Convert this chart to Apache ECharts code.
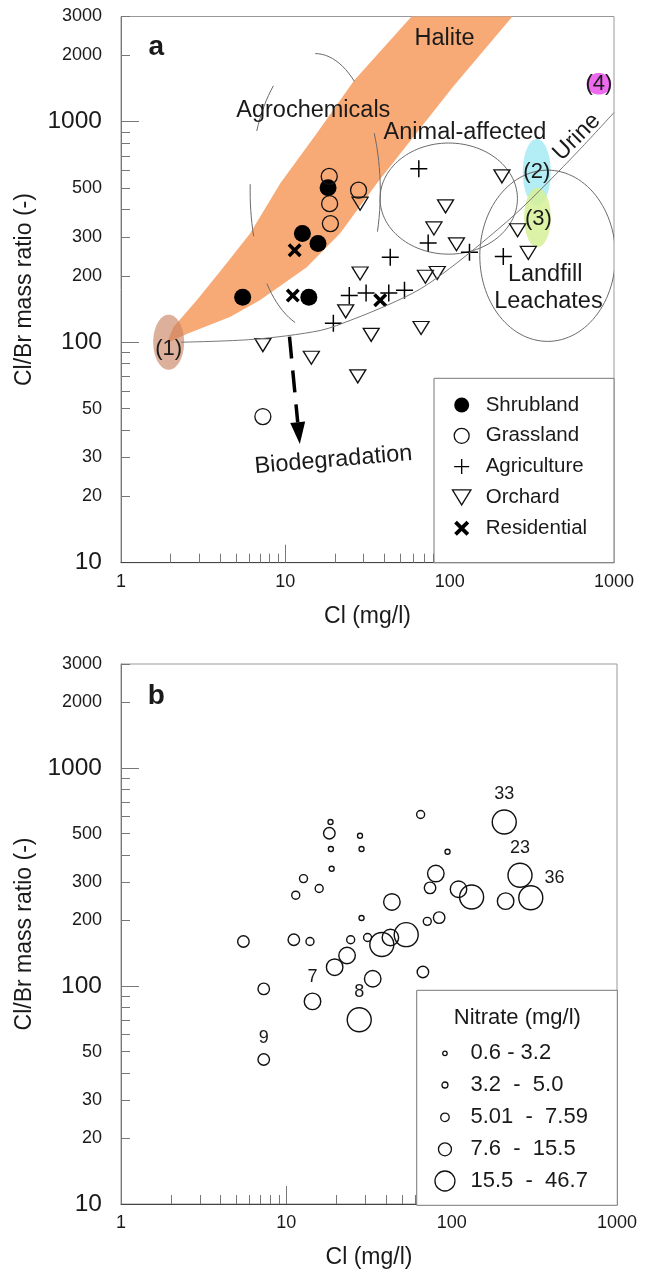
<!DOCTYPE html>
<html>
<head>
<meta charset="utf-8">
<script src="https://cdn.jsdelivr.net/npm/echarts@6/dist/echarts.min.js"></script>
<style>
  html, body { margin: 0; padding: 0; background: #fff; }
  #chart { width: 646px; height: 1270px; }
</style>
</head>
<body>
<div id="chart"></div>
<script>
var FONT = '"Liberation Sans", Arial, Helvetica, sans-serif';
var INK = '#1a1a1a';

// ---- panel a: samples by land use, Cl (mg/l) vs Cl/Br mass ratio ----
var shrubCl    = [5.5, 18.2, 12.7, 15.8, 13.9];
var shrubRatio = [160, 502, 311, 280, 160];
var grassCl    = [18.5, 18.6, 18.8, 27.9, 7.3];
var grassRatio = [565, 425, 345, 489, 46];
var agriCl     = [64.9, 43.5, 74, 24.5, 31, 42.6, 53.1, 19.6, 132, 212];
var agriRatio  = [612, 243, 282, 163, 167, 167, 172, 122, 256, 245];
var orchCl     = [28.5, 28.5, 23.3, 7.3, 14.4, 27.6, 33.3, 67, 80.2, 71.2, 84, 208, 94.4, 110, 259, 301];
var orchRatio  = [425, 205, 138, 97, 85, 70, 108, 116, 328, 198, 206, 565, 413, 278, 322, 254];
var resCl      = [11.4, 11.1, 37.8];
var resRatio   = [261, 163, 155];

// ---- panel b: nitrate class (1..5) of each sample, same order as above ----
var shrubNo3 = [3, 3, 2, 2, 2];
var grassNo3 = [1, 1, 1, 1, 3];
var agriNo3  = [2, 4, 3, 2, 2, 4, 5, 4, 5, 4];
var orchNo3  = [1, 1, 4, 3, 4, 5, 4, 3, 4, 2, 3, 5, 1, 4, 5, 5];
var resNo3   = [2, 3, 5];
// sample numbers written next to some bubbles
var shrubTag = ['', '', '', '', ''];
var grassTag = ['', '', '', '', '9'];
var agriTag  = ['', '', '', '', '', '', '', '', '', ''];
var orchTag  = ['', '', '', '', '7', '8', '', '', '', '', '', '33', '', '', '23', '36'];
var resTag   = ['', '', ''];
var nitrateClasses = ['0.6 - 3.2', '3.2  -  5.0', '5.01  -  7.59', '7.6  -  15.5', '15.5  -  46.7'];

// ---- axis ticks / labels ----
var xLabels    = [1, 10, 100, 1000];
var xTickMinor = [2, 3, 4, 5, 6, 7, 8, 9, 20, 30, 40, 50, 60, 70, 80, 90, 200, 300, 400, 500, 600, 700, 800, 900];
var xTickMajor = [10, 100];
var yLabels    = [10, 20, 30, 50, 100, 200, 300, 500, 1000, 2000, 3000];
var yTickMinor = [20, 30, 40, 50, 60, 70, 80, 90, 200, 300, 400, 500, 600, 700, 800, 900, 2000, 3000];
var yTickMajor = [100, 1000];

// ---- panel a annotations ----
// halite band outline
var haliteCl    = [1.9, 2.08, 2.89, 4.2, 6.1, 9.3, 15.5, 21.5, 26.2, 58.6, 87.6, 352, 241, 104.5, 36, 21.5, 13.5, 7.0, 4.6, 2.51];
var haliteRatio = [99, 117, 155, 219, 311, 524, 883, 1249, 1538, 3000, 4200, 4200, 3000, 1435, 524, 311, 219, 155, 130, 109];
// end members (1)..(4)
var blobCl    = [1.95, 339, 342, 809];
var blobRatio = [100, 591, 368, 1486];
// outlined fields: animal-affected, landfill leachates, agrochemicals
var ringCl    = [98.7, 394.5, 15.2];
var ringRatio = [448, 246.6, 483];
// urine mixing line
var urineCl    = [2.32, 6.36, 16.3, 25.8, 41.6, 66, 100, 153, 250, 392, 622, 1000];
var urineRatio = [100, 103, 113, 127, 147, 174, 216, 278, 380, 527, 751, 1100];
// biodegradation arrow
var arrowCl    = [10.6, 12.25];
var arrowRatio = [106, 34.5];
// text notes
var noteText  = ['Halite', 'Agrochemicals', 'Animal-affected', 'Urine', 'Landfill', 'Leachates', 'Biodegradation', '(1)', '(2)', '(3)', '(4)'];
var noteCl    = [93, 14.8, 124, 594, 381, 399, 19.6, 1.95, 339, 347, 809];
var noteRatio = [2377, 1125, 897, 852, 203, 153, 29.2, 93, 591, 363, 1486];

// shape sizes (half widths in decades) and styles
var blobSize  = [[0.094, 0.125], [0.085, 0.15], [0.081, 0.135], [0.075, 0.049]];
var blobColor = ['rgba(200,128,96,0.62)', 'rgba(160,232,242,0.8)', 'rgba(214,240,150,0.85)', '#EE6AEE'];
var ringSize  = [[0.418, 0.252], [0.4127, 0.3883], [0.396, 0.625]];
var ringArcs  = [[[0, 360]], [[0, 360]], [[-90, -53], [-154, -130], [161, 183], [-25, 17], [108, 138]]];
var noteRotate = [0, 0, 0, 45, 0, 0, 4.8, 0, 0, 0, 0];
var noteSize   = [23.5, 23.5, 23.5, 23.5, 23.5, 23.5, 23.5, 22, 22, 22, 22];

var bubbleSize   = [5, 8, 11.5, 16.5, 24];
var legendBubble = [4.5, 6, 8.5, 13, 20];
var legendRowY   = [1053.3, 1085, 1117.3, 1149.3, 1181];

var PLUS  = 'path://M0,7.3L16,7.3L16,8.7L0,8.7Z M7.3,0L8.7,0L8.7,16L7.3,16Z';
var TRI   = 'path://M0,0L16,0L8,13Z';
var CROSS = 'path://M0,2.5L2.5,0L7,4.5L11.5,0L14,2.5L9.5,7L14,11.5L11.5,14L7,9.5L2.5,14L0,11.5L4.5,7Z';

function pairs(xs, ys) {
    return xs.map(function (x, i) { return [x, ys[i]]; });
}

// pixel centre and radii of an ellipse given in decades
function ellipseGeom(api, cx, cy, hx, hy) {
    var c = api.coord([cx, cy]);
    var e = api.coord([cx * Math.pow(10, hx), cy * Math.pow(10, hy)]);
    return { cx: c[0], cy: c[1], rx: Math.abs(e[0] - c[0]), ry: Math.abs(c[1] - e[1]) };
}

function arcPoints(g, a0, a1) {
    var pts = [];
    var n = Math.max(8, Math.round(Math.abs(a1 - a0) / 3));
    for (var i = 0; i <= n; i++) {
        var t = (a0 + (a1 - a0) * i / n) * Math.PI / 180;
        pts.push([g.cx + g.rx * Math.cos(t), g.cy + g.ry * Math.sin(t)]);
    }
    return pts;
}

function xAxisOf(grid) {
    return {
        type: 'log', logBase: 10, min: 1, max: 1000, gridIndex: grid, position: 'bottom',
        name: 'Cl (mg/l)', nameLocation: 'middle', nameGap: 42,
        nameTextStyle: { fontFamily: FONT, fontSize: 23, color: INK },
        axisLine: { show: true, onZero: false, lineStyle: { color: '#444', width: 1 } },
        axisTick: { show: true, inside: true, length: 9, customValues: xTickMinor, lineStyle: { color: '#777' } },
        axisLabel: {
            show: true, customValues: xLabels, margin: 10, fontFamily: FONT, fontSize: 18, color: INK,
            formatter: function (v) { return String(Math.round(v)); }
        },
        splitLine: { show: false }
    };
}
function xMajorOf(grid) {
    return {
        type: 'log', logBase: 10, min: 1, max: 1000, gridIndex: grid, position: 'bottom',
        axisLine: { show: false, onZero: false },
        axisTick: { show: true, inside: true, length: 18, customValues: xTickMajor, lineStyle: { color: '#777' } },
        axisLabel: { show: false }, splitLine: { show: false }
    };
}
function yAxisOf(grid) {
    return {
        type: 'log', logBase: 10, min: 10, max: 3000, gridIndex: grid, position: 'left',
        name: 'Cl/Br mass ratio (-)', nameLocation: 'middle', nameGap: 80, nameRotate: 90,
        nameTextStyle: { fontFamily: FONT, fontSize: 23, color: INK },
        axisLine: { show: true, onZero: false, lineStyle: { color: '#777', width: 1 } },
        axisTick: { show: true, inside: true, length: 9, customValues: yTickMinor, lineStyle: { color: '#777' } },
        axisLabel: {
            show: true, customValues: yLabels, margin: 19, color: INK,
            formatter: function (v) {
                v = Math.round(v);
                return (v === 10 || v === 100 || v === 1000) ? '{big|' + v + '}' : '{sm|' + v + '}';
            },
            rich: {
                big: { fontFamily: FONT, fontSize: 24.5, color: INK },
                sm: { fontFamily: FONT, fontSize: 18, color: INK }
            }
        },
        splitLine: { show: false }
    };
}
function yMajorOf(grid) {
    return {
        type: 'log', logBase: 10, min: 10, max: 3000, gridIndex: grid, position: 'left',
        axisLine: { show: false, onZero: false },
        axisTick: { show: true, inside: true, length: 18, customValues: yTickMajor, lineStyle: { color: '#777' } },
        axisLabel: { show: false }, splitLine: { show: false }
    };
}

var series = [];

// halite band
series.push({
    type: 'custom', xAxisIndex: 0, yAxisIndex: 0, clip: true, silent: true,
    data: pairs(haliteCl, haliteRatio),
    renderItem: function (params, api) {
        if (params.dataIndex !== 0) return null;
        var pts = haliteCl.map(function (x, i) { return api.coord([x, haliteRatio[i]]); });
        return { type: 'polygon', shape: { points: pts }, style: { fill: '#F8AA76' } };
    }
});
// coloured end members
series.push({
    type: 'custom', xAxisIndex: 0, yAxisIndex: 0, clip: true, silent: true,
    data: pairs(blobCl, blobRatio),
    renderItem: function (params, api) {
        var i = params.dataIndex;
        var g = ellipseGeom(api, blobCl[i], blobRatio[i], blobSize[i][0], blobSize[i][1]);
        return { type: 'polygon', shape: { points: arcPoints(g, 0, 360) }, style: { fill: blobColor[i] } };
    }
});
// outlined fields
series.push({
    type: 'custom', xAxisIndex: 0, yAxisIndex: 0, clip: true, silent: true,
    data: pairs(ringCl, ringRatio),
    renderItem: function (params, api) {
        var i = params.dataIndex;
        var g = ellipseGeom(api, ringCl[i], ringRatio[i], ringSize[i][0], ringSize[i][1]);
        return {
            type: 'group',
            children: ringArcs[i].map(function (a) {
                return {
                    type: 'polyline', shape: { points: arcPoints(g, a[0], a[1]) },
                    style: { stroke: '#6a6a6a', lineWidth: 1, fill: 'none' }
                };
            })
        };
    }
});
// urine line
series.push({
    type: 'line', xAxisIndex: 0, yAxisIndex: 0, silent: true, smooth: 0.3,
    data: pairs(urineCl, urineRatio), symbol: 'none',
    lineStyle: { color: '#777', width: 1 }
});
// biodegradation arrow
series.push({
    type: 'custom', xAxisIndex: 0, yAxisIndex: 0, clip: true, silent: true,
    data: pairs(arrowCl, arrowRatio),
    renderItem: function (params, api) {
        if (params.dataIndex !== 0) return null;
        var a = api.coord([arrowCl[0], arrowRatio[0]]);
        var b = api.coord([arrowCl[1], arrowRatio[1]]);
        var dx = b[0] - a[0], dy = b[1] - a[1];
        var L = Math.sqrt(dx * dx + dy * dy), ux = dx / L, uy = dy / L;
        var head = 22, half = 7.5;
        var bx = b[0] - ux * head, by = b[1] - uy * head;
        return {
            type: 'group',
            children: [
                { type: 'line', shape: { x1: a[0], y1: a[1], x2: bx, y2: by },
                  style: { stroke: '#000', lineWidth: 3.5, lineDash: [22, 12] } },
                { type: 'polygon', shape: { points: [[b[0], b[1]], [bx - uy * half, by + ux * half], [bx + uy * half, by - ux * half]] },
                  style: { fill: '#000' } }
            ]
        };
    }
});
// text notes
series.push({
    type: 'custom', xAxisIndex: 0, yAxisIndex: 0, clip: false, silent: true,
    data: pairs(noteCl, noteRatio),
    renderItem: function (params, api) {
        var i = params.dataIndex;
        var p = api.coord([noteCl[i], noteRatio[i]]);
        return {
            type: 'text', x: p[0], y: p[1], rotation: noteRotate[i] * Math.PI / 180,
            style: { text: noteText[i], fontFamily: FONT, fontSize: noteSize[i], fill: INK, align: 'center', verticalAlign: 'middle' }
        };
    }
});

// land-use symbols
var groups = [
    { name: 'Shrubland', cl: shrubCl, r: shrubRatio, symbol: 'circle', size: 17, style: { color: '#000', opacity: 1 } },
    { name: 'Grassland', cl: grassCl, r: grassRatio, symbol: 'circle', size: 16,
      style: { color: 'rgba(0,0,0,0)', borderColor: '#111', borderWidth: 1.3, opacity: 1 } },
    { name: 'Agriculture', cl: agriCl, r: agriRatio, symbol: PLUS, size: 17, style: { color: '#000', opacity: 1 } },
    { name: 'Orchard', cl: orchCl, r: orchRatio, symbol: TRI, size: [16, 13],
      style: { color: 'rgba(0,0,0,0)', borderColor: '#111', borderWidth: 1.3, opacity: 1 } },
    { name: 'Residential', cl: resCl, r: resRatio, symbol: CROSS, size: 14, style: { color: '#000', opacity: 1 } }
];
groups.forEach(function (g) {
    series.push({
        type: 'scatter', name: g.name, xAxisIndex: 0, yAxisIndex: 0,
        data: pairs(g.cl, g.r), symbol: g.symbol, symbolSize: g.size,
        itemStyle: g.style, emphasis: { disabled: true }
    });
});

// panel b bubbles, one series per nitrate class
var allCl  = [].concat(shrubCl, grassCl, agriCl, orchCl, resCl);
var allR   = [].concat(shrubRatio, grassRatio, agriRatio, orchRatio, resRatio);
var allNo3 = [].concat(shrubNo3, grassNo3, agriNo3, orchNo3, resNo3);
var allTag = [].concat(shrubTag, grassTag, agriTag, orchTag, resTag);
nitrateClasses.forEach(function (name, k) {
    var data = [];
    allCl.forEach(function (x, i) {
        if (allNo3[i] !== k + 1) return;
        var item = { value: [x, allR[i]] };
        if (allTag[i]) {
            var side = allTag[i] === '36';
            item.label = {
                show: true, formatter: allTag[i], position: side ? 'right' : 'top',
                distance: side ? 1 : 6, offset: side ? [0, -20] : [0, 0],
                fontFamily: FONT, fontSize: 18, color: INK
            };
        }
        data.push(item);
    });
    series.push({
        type: 'scatter', name: name, xAxisIndex: 1, yAxisIndex: 1,
        data: data, symbol: 'circle', symbolSize: bubbleSize[k],
        itemStyle: { color: 'rgba(0,0,0,0)', borderColor: '#111', borderWidth: 1.4, opacity: 1 },
        emphasis: { disabled: true }
    });
});

// legend content is aligned on its drawn bounds, so shift by the icon inset
var legends = [{
    data: groups.map(function (g) { return g.name; }),
    orient: 'vertical', left: 451.8, top: 394, padding: 0,
    itemWidth: 38, itemHeight: 15, itemGap: 8.8, selectedMode: false, z: 20,
    itemStyle: { borderWidth: 1.3 },
    textStyle: { fontFamily: FONT, fontSize: 20.5, color: INK, lineHeight: 22 }
}];
nitrateClasses.forEach(function (name, k) {
    legends.push({
        data: [name], orient: 'vertical', left: 423.8 + (41 - legendBubble[k]) / 2, top: legendRowY[k] - 12, padding: 0,
        itemWidth: 41, itemHeight: legendBubble[k], selectedMode: false, z: 20,
        itemStyle: { borderWidth: 1.3 },
        textStyle: { fontFamily: FONT, fontSize: 22, color: INK, lineHeight: 24 }
    });
});

var chart = echarts.init(document.getElementById('chart'));
chart.setOption({
    animation: false,
    backgroundColor: '#fff',
    grid: [
        { left: 121, top: 16.5, width: 493, height: 546.2, show: true, borderColor: '#999', borderWidth: 1 },
        { left: 121, top: 664, width: 496, height: 541.3, show: true, borderColor: '#999', borderWidth: 1 }
    ],
    xAxis: [xAxisOf(0), xAxisOf(1), xMajorOf(0), xMajorOf(1)],
    yAxis: [yAxisOf(0), yAxisOf(1), yMajorOf(0), yMajorOf(1)],
    legend: legends,
    graphic: [
        { type: 'rect', z: 10, shape: { x: 434, y: 378.3, width: 180, height: 184.4 },
          style: { fill: '#fff', stroke: '#777', lineWidth: 1 } },
        { type: 'rect', z: 10, shape: { x: 416.7, y: 990.3, width: 200.6, height: 215 },
          style: { fill: '#fff', stroke: '#777', lineWidth: 1 } },
        { type: 'text', z: 20, x: 156.4, y: 47,
          style: { text: 'a', fontFamily: FONT, fontSize: 28, fontWeight: 'bold', fill: INK, align: 'center', verticalAlign: 'middle' } },
        { type: 'text', z: 20, x: 156.4, y: 696.7,
          style: { text: 'b', fontFamily: FONT, fontSize: 28, fontWeight: 'bold', fill: INK, align: 'center', verticalAlign: 'middle' } },
        { type: 'text', z: 20, x: 517.3, y: 1018.3,
          style: { text: 'Nitrate (mg/l)', fontFamily: FONT, fontSize: 22, fill: INK, align: 'center', verticalAlign: 'middle' } }
    ],
    series: series
});
</script>
</body>
</html>
